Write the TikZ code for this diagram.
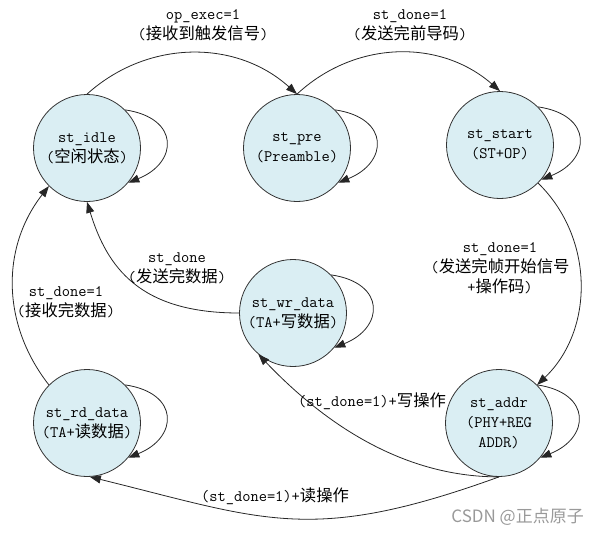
\documentclass[tikz,border=0pt]{standalone}
\usepackage{fontspec}
\newfontfamily\cjk[Scale=1.02]{Noto Sans CJK SC}
\newfontfamily\wmfont{Noto Sans CJK SC}
\usetikzlibrary{arrows.meta}
\definecolor{stfill}{HTML}{DAEEF3}
\newcommand\zh[1]{{\cjk #1}}
\begin{document}
\begin{tikzpicture}[x=1pt,y=1pt,
  state/.style={circle, draw=black!80, line width=0.8pt, fill=stfill,
    minimum size=107pt, inner sep=0pt, align=center,
    font=\ttfamily\fontsize{16}{20}\selectfont},
  edgelab/.style={align=center, inner sep=0pt, font=\ttfamily\fontsize{16}{20}\selectfont},
  tr/.style={draw=black!85, line width=0.8pt, -{Triangle[length=11pt,width=8pt]}},
]
\useasboundingbox (0,0) rectangle (599,-536);

% states
\node[state] (idle)  at (87,-148)  {st\_idle\\(\zh{空闲状态})};
\node[state] (pre)   at (297,-148) {st\_pre\\(Preamble)};
\node[state] (start) at (500,-145) {st\_start\\(ST+OP)};
\node[state] (wr)    at (293,-313) {st\_wr\_data\\(TA+\zh{写数据})};
\node[state] (rd)    at (87,-423)  {st\_rd\_data\\(TA+\zh{读数据})};
\node[state] (addr)  at (499,-423) {st\_addr\\(PHY+REG\\ADDR)};

% self loops
\foreach \n in {idle,pre,start,wr,rd,addr}{
  \draw[tr] (\n.45) .. controls +(55,-8) and +(50,20) .. (\n.-40);
}

% transitions
\draw[tr] (idle.north) to[bend left=42] (pre.north);
\draw[tr] (pre.north) to[bend left=42] (start.north);
\draw[tr] (start.-45) to[bend left=46] (addr.45);
\draw[tr] (addr.south) .. controls +(-100,0) and +(62,-65) .. (wr.-130);
\draw[tr] (addr.south) .. controls +(-188,-68) and +(175,-43) .. (rd.-87);
\draw[tr] (wr.west) .. controls +(-100,0) and +(20,-65) .. (idle.south);
\draw[tr] (rd.135) to[bend left=38] (idle.-135);

% labels
\node[edgelab] (l1) at (203,-25) {op\_exec=1\\(\zh{接收到触发信号})};
\node[edgelab] (l2) at (410,-25) {st\_done=1\\(\zh{发送完前导码})};
\node[edgelab] (l3) at (500,-268) {st\_done=1\\(\zh{发送完帧开始信号}\\+\zh{操作码})};
\node[edgelab] (l4) at (177,-268) {st\_done\\(\zh{发送完数据})};
\node[edgelab] (l5) at (66,-302) {st\_done=1\\(\zh{接收完数据})};
\node[edgelab] (l6) at (372,-401) {(st\_done=1)+\zh{写操作}};
\node[edgelab] (l7) at (275,-496) {(st\_done=1)+\zh{读操作}};

% watermark
\node[text=black!40, inner sep=0pt, anchor=east, font=\wmfont\fontsize{17}{20}\selectfont] (wm) at (584,-517) {CSDN @正点原子};
\end{tikzpicture}
\end{document}
